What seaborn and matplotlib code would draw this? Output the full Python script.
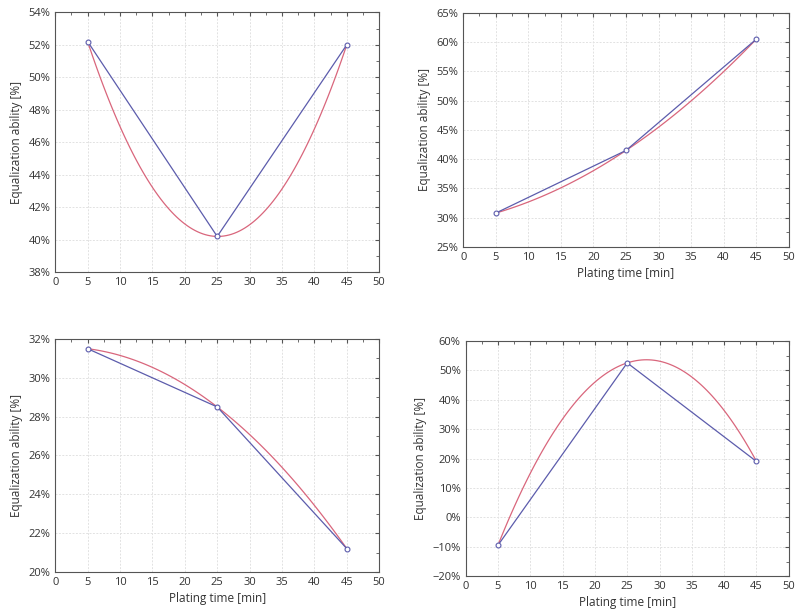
import matplotlib
matplotlib.use("Agg")
import numpy as np
import pandas as pd
import seaborn as sns
import matplotlib.pyplot as plt
from matplotlib.ticker import MultipleLocator, AutoMinorLocator, PercentFormatter

# plating time [min]
time = [5, 25, 45]

# equalization ability [%] for each panel
eq_a = [52.2, 40.2, 52.0]
eq_b = [30.8, 41.5, 60.5]
eq_c = [31.5, 28.5, 21.2]
eq_d = [-9.5, 52.5, 19.0]

ylims = [(38, 54, 2), (25, 65, 5), (20, 32, 2), (-20, 60, 10)]
show_xlabel = [False, True, True, True]

sns.set_style("white")
plt.rcParams["font.family"] = ["Open Sans", "DejaVu Sans"]

BLUE = "#5c5cac"
RED = "#d9667c"

fig = plt.figure(figsize=(8, 6.13), dpi=100)
positions = [
    [0.069, 0.556, 0.405, 0.424],
    [0.579, 0.597, 0.407, 0.382],
    [0.069, 0.067, 0.405, 0.380],
    [0.582, 0.060, 0.404, 0.384],
]

for pos, vals, (lo, hi, step), xl in zip(positions, [eq_a, eq_b, eq_c, eq_d], ylims, show_xlabel):
    ax = fig.add_axes(pos)
    df = pd.DataFrame({"t": time, "e": vals})
    # quadratic fit in red
    sns.regplot(data=df, x="t", y="e", order=2, ci=None, scatter=False, ax=ax,
                line_kws=dict(color=RED, lw=0.9))
    # raw data in blue
    sns.lineplot(data=df, x="t", y="e", ax=ax, color=BLUE, lw=0.9,
                 marker="o", markersize=3.5, markerfacecolor="white",
                 markeredgecolor=BLUE, markeredgewidth=0.8)

    ax.set_xlim(0, 50)
    ax.set_ylim(lo, hi)
    ax.xaxis.set_major_locator(MultipleLocator(5))
    ax.yaxis.set_major_locator(MultipleLocator(step))
    ax.xaxis.set_minor_locator(AutoMinorLocator(2))
    ax.yaxis.set_minor_locator(AutoMinorLocator(2))
    ax.yaxis.set_major_formatter(PercentFormatter(decimals=0))
    ax.grid(True, which="major", color="#e2e2e2", lw=0.7, ls=(0, (2, 1.5)))
    ax.tick_params(which="both", direction="in", top=True, right=True,
                   labelsize=8, labelcolor="#333333", color="#555555")
    ax.tick_params(which="major", length=3)
    ax.tick_params(which="minor", length=2)
    for s in ax.spines.values():
        s.set_color("#555555")
        s.set_linewidth(0.8)
    ax.set_ylabel("Equalization ability [%]", fontsize=8.5, color="#333333", labelpad=4)
    ax.set_xlabel("Plating time [min]" if xl else "", fontsize=8.5, color="#333333", labelpad=3)

fig.savefig("out.png", dpi=100)
